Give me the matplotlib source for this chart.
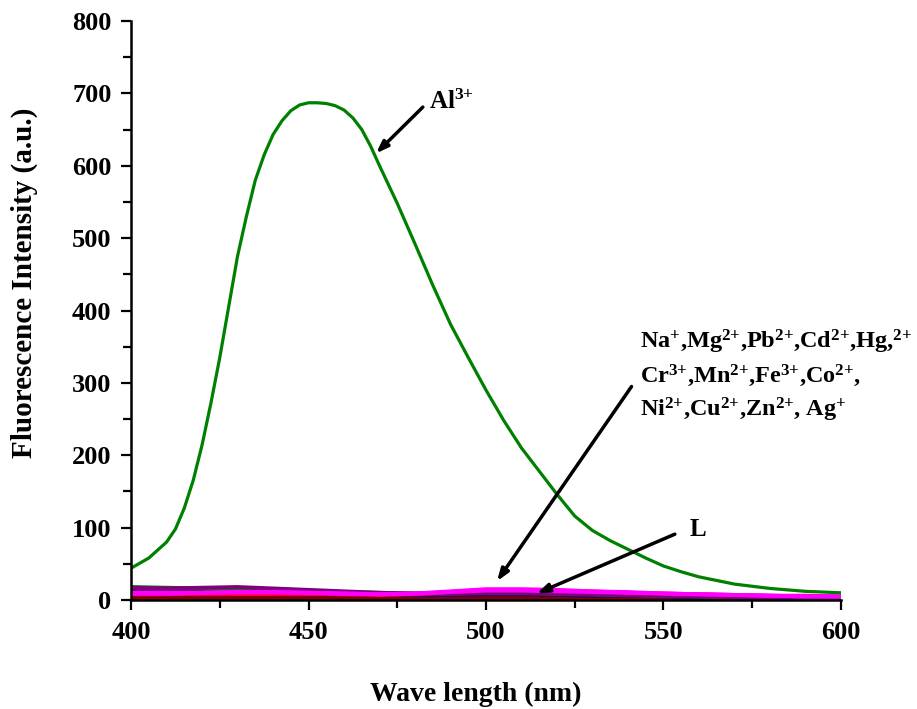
import numpy as np
import matplotlib
matplotlib.use("Agg")
import matplotlib.pyplot as plt
from matplotlib.ticker import MultipleLocator

plt.rcParams['font.family'] = 'serif'
plt.rcParams['font.serif'] = ['Liberation Serif', 'DejaVu Serif']
plt.rcParams['font.weight'] = 'bold'
plt.rcParams['mathtext.fontset'] = 'custom'
plt.rcParams['mathtext.rm'] = 'Liberation Serif:bold'
plt.rcParams['mathtext.it'] = 'Liberation Serif:bold'
plt.rcParams['mathtext.bf'] = 'Liberation Serif:bold'
plt.rcParams['mathtext.default'] = 'rm'

# Al3+ spectrum
wl_al = [400, 405, 410, 412.5, 415, 417.5, 420, 422.5, 425, 427.5, 430, 432.5, 435, 437.5,
         440, 442.5, 445, 447.5, 450, 452.5, 455, 457.5, 460, 462.5, 465, 467.5, 470,
         475, 480, 485, 490, 495, 500, 505, 510, 515, 520, 525, 530, 535, 540, 545,
         550, 555, 560, 565, 570, 575, 580, 585, 590, 595, 600]
al = [44, 58, 80, 98, 127, 165, 214, 272, 335, 405, 475, 530, 580, 615,
      643, 662, 676, 684, 687, 687, 686, 683, 677, 666, 650, 627, 600,
      548, 492, 435, 381, 335, 290, 248, 210, 178, 146, 116, 96, 82, 70, 58,
      47, 39, 32, 27, 22, 19, 16, 14, 12, 11, 10]

# other ions and free ligand L (read every 10 nm)
wl_low = [400, 410, 420, 430, 440, 450, 460, 470, 480, 490, 500,
          510, 520, 530, 540, 550, 560, 570, 580, 590, 600]
low_series = {
    "L":    [4, 4, 4, 4, 4, 4, 3, 3, 3, 3, 3, 3, 3, 3, 3, 3, 2, 2, 2, 2, 2],
    "Na":   [3, 3, 3, 3, 3, 3, 3, 3, 3, 3, 3, 3, 2, 2, 2, 2, 2, 2, 2, 2, 2],
    "Mg":   [2, 2, 2, 2, 2, 2, 2, 2, 2, 2, 2, 2, 2, 2, 2, 1, 1, 1, 1, 1, 1],
    "Pb":   [6, 6, 6, 6, 5, 5, 5, 4, 4, 4, 4, 4, 4, 3, 3, 3, 3, 2, 2, 2, 2],
    "Cd":   [5, 5, 5, 5, 5, 4, 4, 4, 4, 5, 6, 6, 5, 5, 4, 4, 4, 3, 3, 3, 2],
    "Hg":   [3, 3, 3, 3, 3, 3, 3, 3, 3, 4, 4, 4, 3, 3, 3, 3, 2, 2, 2, 2, 2],
    "Cr":   [12, 11, 11, 11, 10, 10, 9, 8, 7, 7, 8, 8, 7, 6, 6, 5, 4, 4, 3, 3, 3],
    "Mn":   [13, 13, 12, 13, 13, 12, 11, 9, 8, 9, 11, 11, 10, 9, 8, 7, 6, 5, 4, 4, 3],
    "Fe":   [15, 15, 15, 16, 15, 13, 11, 9, 8, 8, 9, 9, 8, 7, 6, 5, 5, 4, 3, 3, 3],
    "Co":   [18, 17, 16, 14, 13, 12, 11, 10, 9, 9, 10, 10, 9, 8, 7, 6, 5, 4, 4, 3, 3],
    "Ni":   [17, 16, 17, 18, 16, 14, 12, 10, 9, 9, 10, 10, 9, 8, 7, 6, 5, 4, 3, 3, 3],
    "Cu":   [8, 8, 9, 9, 9, 9, 8, 7, 8, 11, 14, 14, 13, 12, 10, 9, 8, 7, 6, 6, 5],
    "Zn":   [9, 9, 10, 11, 11, 10, 9, 8, 9, 12, 15, 15, 14, 12, 11, 9, 8, 7, 6, 5, 5],
    "Ag":   [10, 10, 10, 11, 11, 10, 9, 8, 9, 11, 13, 13, 12, 11, 10, 9, 8, 7, 6, 5, 5],
}
low_colors = ["#008000", "#c08000", "#8000ff", "#808080", "#ff0000", "#800000",
              "#000080", "#0000ff", "#660066", "#008000", "#800080", "#ff0080",
              "#ff00ff", "#ff00ff"]

fig = plt.figure(figsize=(9.17, 7.09), dpi=100)
ax = fig.add_axes([0.1429, 0.1537, 0.7742, 0.8167])

for (name, vals), c in zip(low_series.items(), low_colors):
    ax.plot(wl_low, vals, color=c, lw=2.8)
ax.plot(wl_al, al, color="#008000", lw=2.3)

ax.set_xlim(400, 600)
ax.set_ylim(0, 800)
ax.spines['top'].set_visible(False)
ax.spines['right'].set_visible(False)
ax.spines['left'].set_linewidth(1.8)
ax.spines['bottom'].set_linewidth(1.8)
ax.xaxis.set_major_locator(MultipleLocator(50))
ax.xaxis.set_minor_locator(MultipleLocator(25))
ax.yaxis.set_major_locator(MultipleLocator(100))
ax.yaxis.set_minor_locator(MultipleLocator(50))
ax.tick_params(which='major', direction='out', length=7, width=1.6, labelsize=19)
ax.tick_params(which='minor', direction='out', length=6, width=1.6)
ax.tick_params(axis='x', which='major', pad=8)
ax.tick_params(axis='y', which='major', pad=7)

ax.set_xlabel("Wave length (nm)", fontsize=20, fontweight='bold')
ax.set_ylabel("Fluorescence Intensity (a.u.)", fontsize=21, fontweight='bold')
ax.xaxis.set_label_coords(0.485, -0.1416)
ax.yaxis.set_label_coords(-0.131, 0.548)

arrow = dict(arrowstyle='-|>,head_length=0.7,head_width=0.25', color='black',
             lw=2.5, shrinkA=0, shrinkB=0)
ax.annotate('', xy=(469, 617), xytext=(482.2, 681), arrowprops=arrow)
ax.text(483.8, 678, r'Al$^{3{+}}$', fontsize=18, va='baseline')

ax.annotate('', xy=(503.1, 26), xytext=(541.0, 295), arrowprops=arrow)
ax.text(543.4, 348, r'Na$^{{+}}$,Mg$^{2{+}}$,Pb$^{2{+}}$,Cd$^{2{+}}$,Hg,$^{2{+}}$',
        fontsize=17.5, va='baseline')
ax.text(543.4, 301, r'Cr$^{3{+}}$,Mn$^{2{+}}$,Fe$^{3{+}}$,Co$^{2{+}}$,',
        fontsize=17.5, va='baseline')
ax.text(543.4, 253, r'Ni$^{2{+}}$,Cu$^{2{+}}$,Zn$^{2{+}}$, Ag$^{{+}}$',
        fontsize=17.5, va='baseline')

ax.annotate('', xy=(514.3, 9), xytext=(553.2, 91), arrowprops=arrow)
ax.text(557.5, 88, 'L', fontsize=18, va='baseline')

fig.savefig("out.png", dpi=100)
